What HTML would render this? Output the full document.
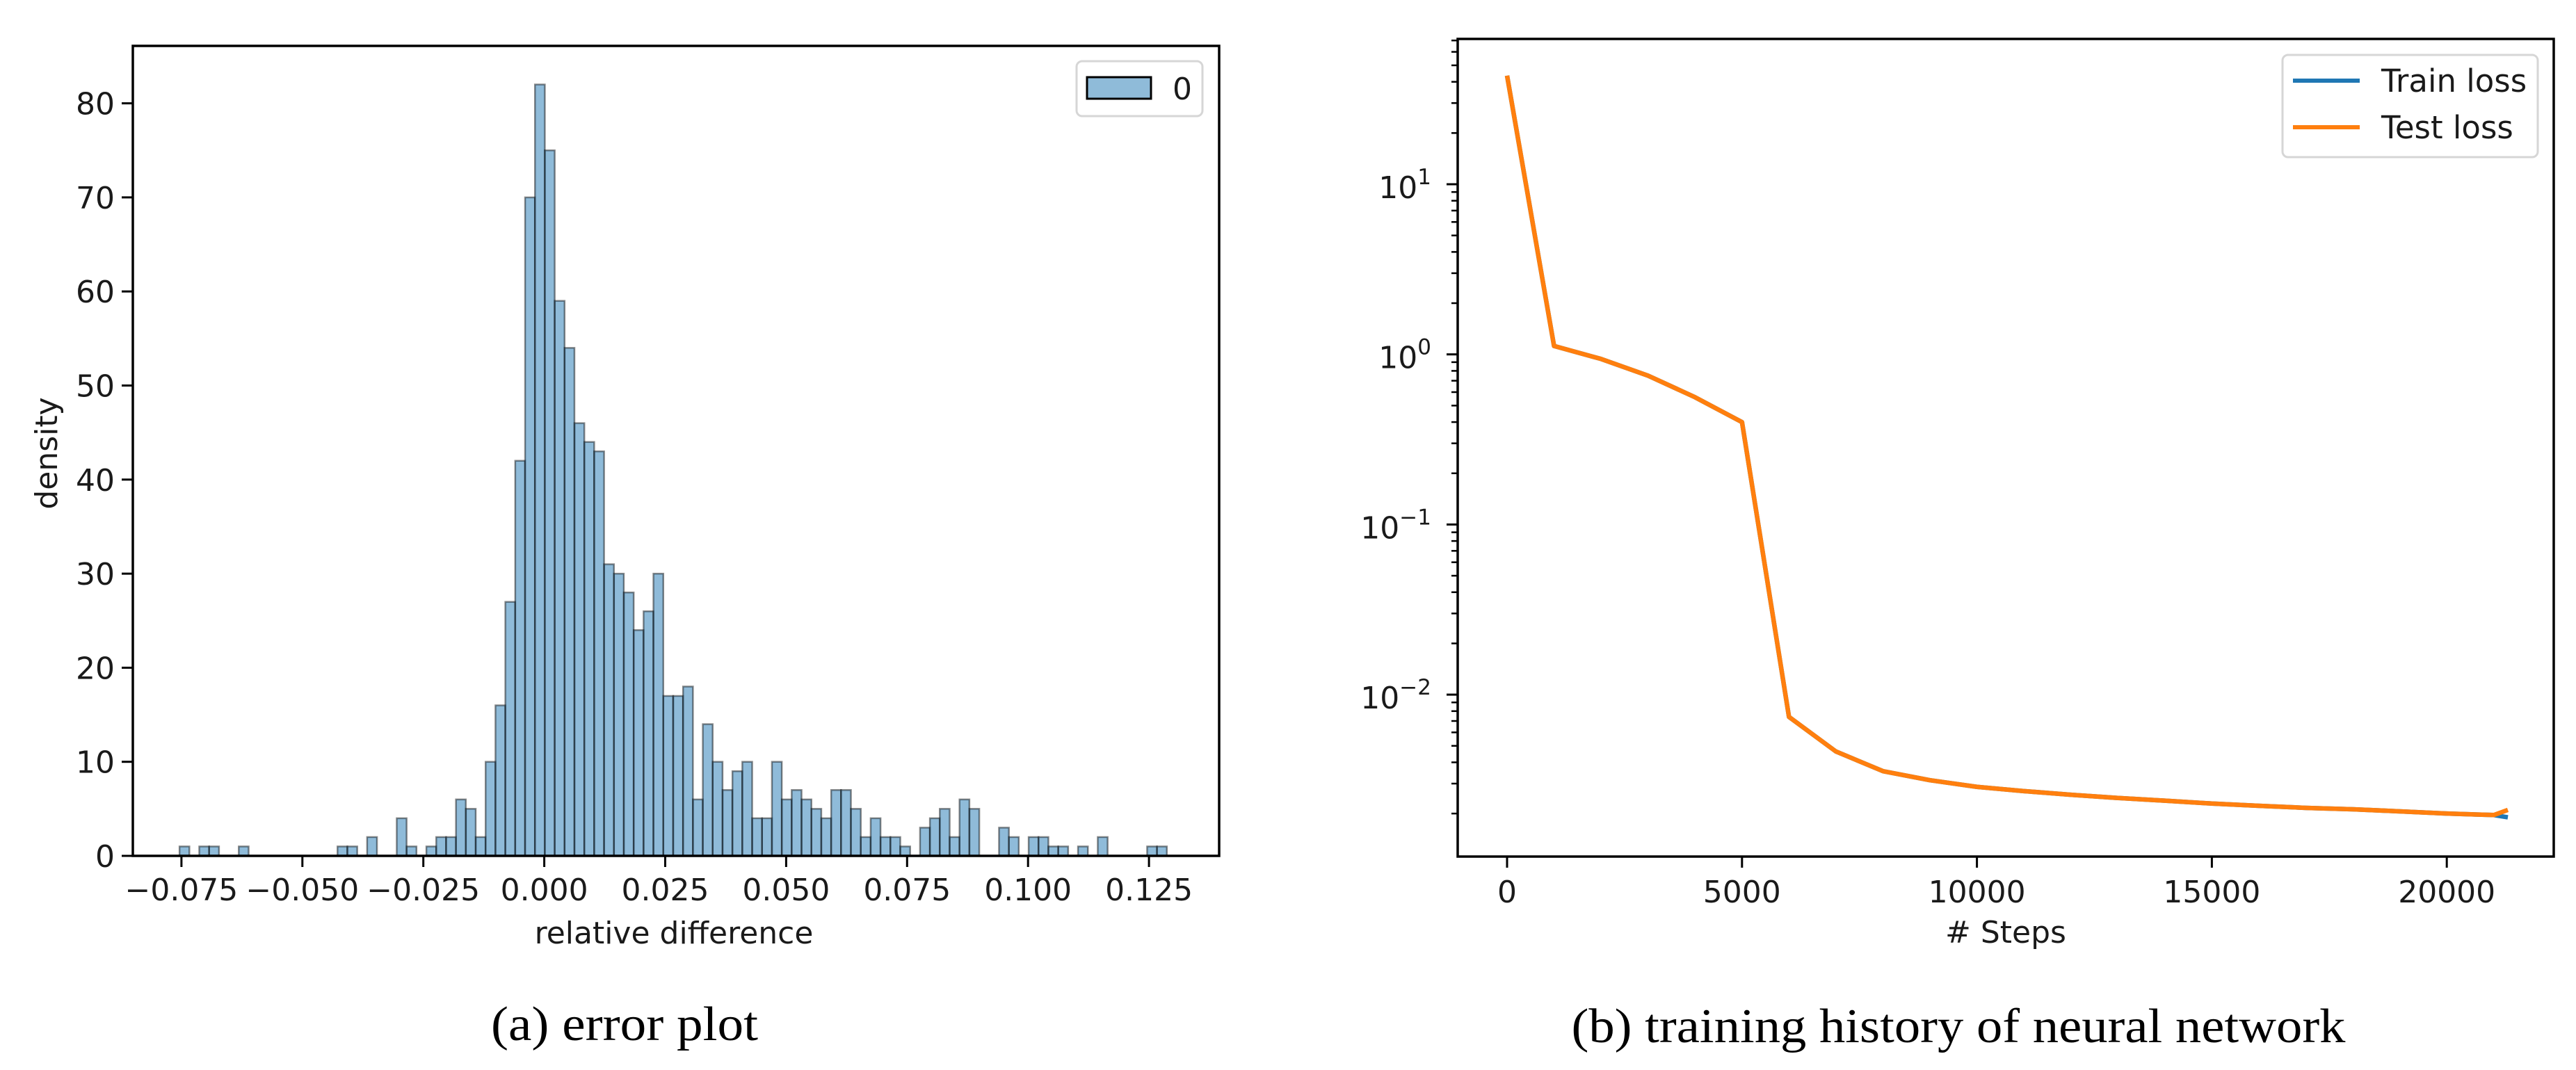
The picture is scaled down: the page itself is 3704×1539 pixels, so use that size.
<!DOCTYPE html>
<html><head><meta charset="utf-8">
<style>
html,body{margin:0;padding:0;background:#fff;}
svg{display:block;}
text{font-family:"DejaVu Sans","Liberation Sans",sans-serif;fill:#1a1a1a;}
.cap{font-family:"Liberation Serif",serif;fill:#000;}
</style></head>
<body>
<svg id="fig" width="3704" height="1539" viewBox="0 0 3704 1539" xmlns="http://www.w3.org/2000/svg">
  <g id="histA"></g>
  <g id="lossB"></g>
  <text class="cap" x="898" y="1496" font-size="70" text-anchor="middle" textLength="384" lengthAdjust="spacingAndGlyphs">(a)  error plot</text>
  <text class="cap" x="2816" y="1499" font-size="70" text-anchor="middle" textLength="1113" lengthAdjust="spacingAndGlyphs">(b)  training history of neural network</text>
</svg>
<script>
// ---- Histogram data ----
const binStart = -0.0754;
const binWidth = 0.002041;
const binCounts = [1,0,1,1,0,0,1,0,0,0, 0,0,0,0,0,0,1,1,0,2, 0,0,4,1,0,1,2,2,6,5,
  2,10,16,27,42,70,82,75,59,54, 46,44,43,31,30,28,24,26,30,17, 17,18,6,14,10,7,9,10,4,4,
  10,6,7,6,5,4,7,7,5,2, 4,2,2,1,0,3,4,5,2,6, 5,0,0,3,2,0,2,2,1,1, 0,1,0,2,0,0,0,0,1,1];
const histXTicks = [-0.075,-0.05,-0.025,0,0.025,0.05,0.075,0.1,0.125];
const histXTickLabels = ["\u22120.075","\u22120.050","\u22120.025","0.000","0.025","0.050","0.075","0.100","0.125"];
const histYTicks = [0,10,20,30,40,50,60,70,80];

// ---- Loss data ----
const steps = [0,1000,2000,3000,4000,5000,6000,7000,8000,9000,10000,11000,12000,13000,14000,15000,16000,17000,18000,19000,20000,21000,21300];
const trainLoss = [43.5,1.12,0.94,0.75,0.56,0.40,0.0074,0.00463,0.00355,0.00314,0.00287,0.00271,0.00258,0.00247,0.00238,0.00229,0.00222,0.00216,0.00212,0.00206,0.00200,0.00196,0.00190];
const testLoss  = [43.5,1.12,0.94,0.75,0.56,0.40,0.0074,0.00463,0.00355,0.00314,0.00287,0.00271,0.00258,0.00247,0.00238,0.00229,0.00222,0.00216,0.00212,0.00206,0.00200,0.00196,0.00210];
const lossXTicks = [0,5000,10000,15000,20000];
const lossYExps = [-2,-1,0,1];

const NS="http://www.w3.org/2000/svg";
function mk(tag, attrs, parent){const e=document.createElementNS(NS,tag);for(const k in attrs)e.setAttribute(k,attrs[k]);parent.appendChild(e);return e;}

// ===== Panel A =====
(function(){
  const g=document.getElementById('histA');
  const L=191,R=1753,T=66,B=1231;
  const x=v=>782.6+(v)*6956;
  const y=v=>B-v*13.53;
  for(let i=0;i<binCounts.length;i++){
    if(binCounts[i]<=0)continue;
    const x0=x(binStart+i*binWidth), x1=x(binStart+(i+1)*binWidth);
    const r=mk('rect',{x:x0,y:y(binCounts[i]),width:x1-x0,height:B-y(binCounts[i]),fill:'rgba(31,119,180,0.5)',stroke:'rgba(0,0,0,0.45)','stroke-width':2.5},g);
    
    
  }
  const f=mk('rect',{x:L,y:T,width:R-L,height:B-T,fill:'none',stroke:'#000','stroke-width':3.5},g);
  
  histXTicks.forEach((v,i)=>{
    const xx=x(v);
    mk('line',{x1:xx,x2:xx,y1:B,y2:B+16,stroke:'#000','stroke-width':3},g);
    const t=mk('text',{x:xx,y:B+64,'font-size':44,'text-anchor':'middle'},g);
    t.textContent=histXTickLabels[i];
    
  });
  histYTicks.forEach(v=>{
    const yy=y(v);
    mk('line',{x1:L-16,x2:L,y1:yy,y2:yy,stroke:'#000','stroke-width':3},g);
    const t=mk('text',{x:L-26,y:yy+16,'font-size':44,'text-anchor':'end'},g);
    t.textContent=String(v);
    
  });
  const xl=mk('text',{x:969,y:1357,'font-size':44,'text-anchor':'middle'},g);
  xl.textContent='relative difference';
  const yl=mk('text',{x:0,y:0,'font-size':44,'text-anchor':'middle',transform:'translate(82,652) rotate(-90)'},g);
  yl.textContent='density';
  const lg=mk('g',{},g);
  mk('rect',{x:1548,y:88,width:181,height:79,rx:8,fill:'#fff','fill-opacity':0.8,stroke:'#d6d6d6','stroke-width':3},lg);
  mk('rect',{x:1563,y:111,width:92,height:31,fill:'rgba(31,119,180,0.5)',stroke:'#000','stroke-width':3},lg);
  const lt=mk('text',{x:1700,y:143,'font-size':44,'text-anchor':'middle'},lg);lt.textContent='0';
  
})();

// ===== Panel B =====
(function(){
  const g=document.getElementById('lossB');
  const L=2096,R=3672,T=56,B=1232;
  const x=v=>2167+v*0.06756;
  const y=v=>265-(Math.log10(v)-1)*244.7;
  const fr=mk('rect',{x:L,y:T,width:R-L,height:B-T,fill:'none',stroke:'#000','stroke-width':3.5},g);
  
  for(let e=-3;e<=1;e++){for(let m=2;m<=9;m++){const yy=y(m*Math.pow(10,e));if(yy<T||yy>B)continue;
    mk('line',{x1:L-9,x2:L,y1:yy,y2:yy,stroke:'#000','stroke-width':2.5},g);}}
  lossYExps.forEach(e=>{
    const yy=y(Math.pow(10,e));
    mk('line',{x1:L-16,x2:L,y1:yy,y2:yy,stroke:'#000','stroke-width':3},g);
    const t=mk('text',{x:L-38,y:yy+20,'font-size':44,'text-anchor':'end'},g);
    
    t.appendChild(document.createTextNode('10'));
    const s=document.createElementNS(NS,'tspan');s.setAttribute('dy','-20');s.setAttribute('font-size','31');
    s.textContent=(e<0?'\u2212':'')+Math.abs(e);t.appendChild(s);
  });
  lossXTicks.forEach(v=>{
    const xx=x(v);
    mk('line',{x1:xx,x2:xx,y1:B,y2:B+16,stroke:'#000','stroke-width':3},g);
    const t=mk('text',{x:xx,y:B+66,'font-size':44,'text-anchor':'middle'},g);
    t.textContent=String(v);
  });
  function line(data,color,name){
    const p=mk('polyline',{points:steps.map((s,i)=>x(s)+','+y(data[i])).join(' '),fill:'none',stroke:color,'stroke-width':6.5,'stroke-linejoin':'round'},g);
    
  }
  line(trainLoss,'#1f77b4','train-loss-line');
  line(testLoss,'#ff7f0e','test-loss-line');
  const xl=mk('text',{x:2884,y:1356,'font-size':44,'text-anchor':'middle'},g);
  xl.textContent='# Steps';
  const lg=mk('g',{},g);
  mk('rect',{x:3282,y:79,width:367,height:147,rx:8,fill:'#fff','fill-opacity':0.8,stroke:'#d6d6d6','stroke-width':3},lg);
  mk('line',{x1:3297,x2:3393,y1:116,y2:116,stroke:'#1f77b4','stroke-width':6},lg);
  mk('line',{x1:3297,x2:3393,y1:183,y2:183,stroke:'#ff7f0e','stroke-width':6},lg);
  const t1=mk('text',{x:3424,y:132,'font-size':45},lg);t1.textContent='Train loss';
  
  const t2=mk('text',{x:3424,y:199,'font-size':45},lg);t2.textContent='Test loss';
  
})();
</script>
</body></html>
